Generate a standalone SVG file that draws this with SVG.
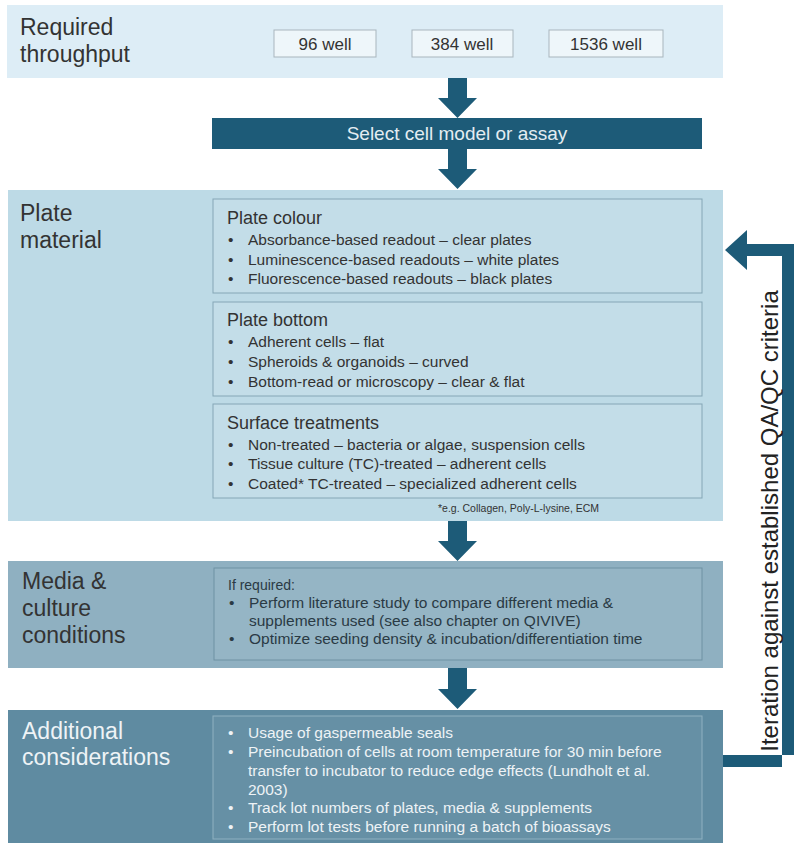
<svg xmlns="http://www.w3.org/2000/svg" width="798" height="843" viewBox="0 0 798 843">
<style>
text{font-family:"Liberation Sans",Arial,sans-serif;}
.h{font-size:23px;fill:#333;}
.hw{font-size:23px;fill:#eef3f6;}
.well{font-size:17px;fill:#333;text-anchor:middle;}
.t{font-size:18px;fill:#333;}
.b{font-size:15.5px;fill:#333;}
.bm{font-size:15.5px;fill:#2a3a44;}
.bw{font-size:15.5px;fill:#eef3f6;}
.arr{fill:#1d5b78;}
</style>
<rect width="798" height="843" fill="#ffffff"/>

<g id="throughput">
<rect x="7" y="5" width="716" height="73" fill="#ddedf6"/>
<text class="h" x="20" y="35">Required</text>
<text class="h" x="20" y="62">throughput</text>
<rect x="274" y="30" width="102" height="27" fill="#eef6fa" stroke="#a9b6bd"/>
<text class="well" x="325" y="50">96 well</text>
<rect x="412" y="30" width="101" height="27" fill="#eef6fa" stroke="#a9b6bd"/>
<text class="well" x="462" y="50">384 well</text>
<rect x="549" y="30" width="114" height="27" fill="#eef6fa" stroke="#a9b6bd"/>
<text class="well" x="606" y="50">1536 well</text>
</g>

<g id="select">
<rect x="212" y="118" width="490" height="31" fill="#1d5b78"/>
<text x="457" y="140" font-size="19" fill="#e4edf2" text-anchor="middle">Select cell model or assay</text>
</g>

<g id="plate-material">
<rect x="8" y="190" width="715" height="331" fill="#bddae6"/>
<text class="h" x="20" y="221">Plate</text>
<text class="h" x="20" y="248">material</text>
<rect x="213" y="199" width="489" height="94" fill="#c3dde8" stroke="#85a6b6"/>
<text class="t" x="227" y="224">Plate colour</text>
<text class="b" x="228" y="245">•</text><text class="b" x="248" y="245">Absorbance-based readout – clear plates</text>
<text class="b" x="228" y="265">•</text><text class="b" x="248" y="265">Luminescence-based readouts – white plates</text>
<text class="b" x="228" y="284">•</text><text class="b" x="248" y="284">Fluorescence-based readouts – black plates</text>
<rect x="213" y="302" width="489" height="94" fill="#c3dde8" stroke="#85a6b6"/>
<text class="t" x="227" y="326">Plate bottom</text>
<text class="b" x="228" y="347">•</text><text class="b" x="248" y="347">Adherent cells – flat</text>
<text class="b" x="228" y="367">•</text><text class="b" x="248" y="367">Spheroids &amp; organoids – curved</text>
<text class="b" x="228" y="387">•</text><text class="b" x="248" y="387">Bottom-read or microscopy – clear &amp; flat</text>
<rect x="213" y="404" width="489" height="94" fill="#c3dde8" stroke="#85a6b6"/>
<text class="t" x="227" y="429">Surface treatments</text>
<text class="b" x="228" y="450">•</text><text class="b" x="248" y="450">Non-treated – bacteria or algae, suspension cells</text>
<text class="b" x="228" y="469">•</text><text class="b" x="248" y="469">Tissue culture (TC)-treated – adherent cells</text>
<text class="b" x="228" y="489">•</text><text class="b" x="248" y="489">Coated* TC-treated – specialized adherent cells</text>
<text x="438" y="512" font-size="10.5" fill="#333">*e.g. Collagen, Poly-L-lysine, ECM</text>
</g>

<g id="media">
<rect x="8" y="561" width="715" height="107" fill="#8fb0c1"/>
<text class="h" x="22" y="589">Media &amp;</text>
<text class="h" x="22" y="616">culture</text>
<text class="h" x="22" y="643">conditions</text>
<rect x="214" y="568" width="488" height="92" fill="#95b5c5" stroke="#6f91a3"/>
<text x="228" y="590" font-size="14" fill="#2a3a44">If required:</text>
<text class="bm" x="229" y="608">•</text><text class="bm" x="249" y="608">Perform literature study to compare different media &amp;</text>
<text class="bm" x="249" y="626">supplements used (see also chapter on QIVIVE)</text>
<text class="bm" x="229" y="644">•</text><text class="bm" x="249" y="644">Optimize seeding density &amp; incubation/differentiation time</text>
</g>

<g id="additional">
<rect x="8" y="710" width="715" height="133" fill="#5f8ba1"/>
<text class="hw" x="22" y="739">Additional</text>
<text class="hw" x="22" y="765">considerations</text>
<rect x="213" y="716" width="489" height="123" fill="#6690a5" stroke="#8fb1c1"/>
<text class="bw" x="228" y="738">•</text><text class="bw" x="248" y="738">Usage of gaspermeable seals</text>
<text class="bw" x="228" y="757">•</text><text class="bw" x="248" y="757">Preincubation of cells at room temperature for 30 min before</text>
<text class="bw" x="248" y="776">transfer to incubator to reduce edge effects (Lundholt et al.</text>
<text class="bw" x="248" y="795">2003)</text>
<text class="bw" x="228" y="813">•</text><text class="bw" x="248" y="813">Track lot numbers of plates, media &amp; supplements</text>
<text class="bw" x="228" y="832">•</text><text class="bw" x="248" y="832">Perform lot tests before running a batch of bioassays</text>
</g>

<g id="connectors">
<polygon class="arr" points="448,78 467,78 467,98 477,98 457.5,118 438,98 448,98"/>
<polygon class="arr" points="448,149 467,149 467,169 477,169 457.5,189 438,169 448,169"/>
<polygon class="arr" points="448,521 467,521 467,541 477,541 457.5,561 438,541 448,541"/>
<polygon class="arr" points="448,668 467,668 467,689 477,689 457.5,709 438,689 448,689"/>
<polygon class="arr" points="723,755 794,755 794,244 747,244 747,230 725,250 747,270 747,256 782,256 782,767 723,767"/>
<text x="778" y="521" font-size="24" fill="#222" text-anchor="middle" transform="rotate(-90 778 521)">Iteration against established QA/QC criteria</text>
</g>
</svg>
